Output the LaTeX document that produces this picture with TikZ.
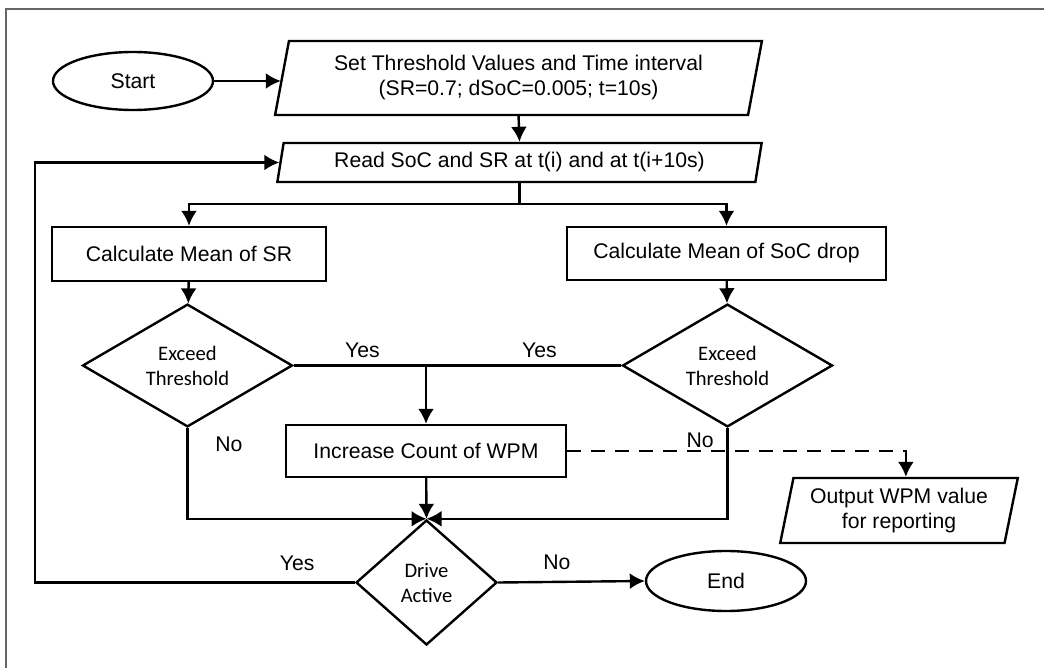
\documentclass[tikz,border=0pt]{standalone}
\usepackage{fontspec}
\setmainfont{Liberation Sans}
\newfontfamily\calibri{Carlito}
\usetikzlibrary{shapes.geometric,arrows.meta}

\begin{document}
\begin{tikzpicture}[x=0.5pt,y=-0.5pt,>={Latex[length=7.5pt,width=8pt]},line width=1.2pt,
            font=\fontsize{10.6}{12.5}\selectfont,
            term/.style={draw,ellipse,minimum width=80pt,minimum height=29pt,inner sep=0pt},
            io/.style={draw,trapezium,trapezium left angle=76,trapezium right angle=104,
                trapezium stretches=true,align=center,inner sep=0pt},
            proc/.style={draw,rectangle,inner sep=0pt},
            decide/.style={draw,diamond,align=center,inner sep=0pt,
                font=\calibri\fontsize{10.3}{12.5}\selectfont}]
            \useasboundingbox (0,0) rectangle (1044,668);
            \draw[line width=0.8pt,black!60] (6,668) -- (6,9) -- (1044,9);
            \node[term] (start) at (133,81) {Start};
            \node[io,minimum width=243.5pt,minimum height=37pt] (set) at (518.5,78)
                {Set Threshold Values and Time interval\\(SR=0.7; dSoC=0.005; t=10s)};
            \node[io,minimum width=242.5pt,minimum height=19.5pt] (read) at (519.5,162.5)
                {Read SoC and SR at t(i) and at t(i+10s)};
            \node[proc,minimum width=137pt,minimum height=27pt] (calcsr) at (189,254) {Calculate Mean of SR};
            \node[proc,minimum width=159.5pt,minimum height=26.5pt] (calcsoc) at (726.5,253.5) {Calculate Mean of SoC drop};
            \node[decide,minimum width=105pt,minimum height=52.5pt] (exsr) at (187.5,365.5) {Exceed\\Threshold};
            \node[decide,minimum width=105pt,minimum height=52.5pt] (exsoc) at (727.5,365.5) {Exceed\\Threshold};
            \node[proc,minimum width=140pt,minimum height=26pt] (inc) at (426,451) {Increase Count of WPM};
            \node[decide,minimum width=70.5pt,minimum height=62.5pt] (drive) at (426.5,582.5) {Drive\\Active};
            \node[term,minimum height=30pt] (stop) at (726,581) {End};
            \node[io,minimum width=120pt,minimum height=32.5pt] (report) at (899,510.5) {Output WPM value\\for reporting};
            \draw[->] (start.east) -- (start.east -| set.left side);
            \draw[->] (set.south) -- (read.north);
            \coordinate (fork) at (read.south |- 0,204);
            \draw (read.south) -- (fork);
            \draw[->] (fork) -| (calcsr.north);
            \draw[->] (fork) -| (calcsoc.north);
            \draw[->] (calcsr) -- (exsr);
            \draw[->] (calcsoc) -- (exsoc);
            \draw (exsr.east) -- node[pos=.21,above] (yessr) {Yes} node[pos=.75,above] (yessoc) {Yes} (exsoc.west);
            \draw[->] (inc.north |- exsr.east) -- (inc.north);
            \draw[->] (exsr.south) |- node[pos=.09,right,xshift=10pt] (nosr) {No} (drive.north);
            \draw[->] (exsoc.south) |- node[pos=.07,left,xshift=-3pt] (nosoc) {No} (drive.north);
            \draw[->] (inc) -- (drive.north);
            \coordinate (back) at (35,582.5);
            \draw[->] (drive.west) -- node[pos=.18,above,yshift=2pt] (yesloop) {Yes} (back) |- (read.left side);
            \draw[->] (drive.east) -- node[pos=.4,above,yshift=2pt] (noend) {No} (stop.west);
            \coordinate (dashend) at ([yshift=9pt]report.top side);
            \draw[dash pattern=on 7pt off 5pt] (inc.east) -| (dashend);
            \draw[->] (dashend) -- (report.top side);
        \end{tikzpicture}
\end{document}
